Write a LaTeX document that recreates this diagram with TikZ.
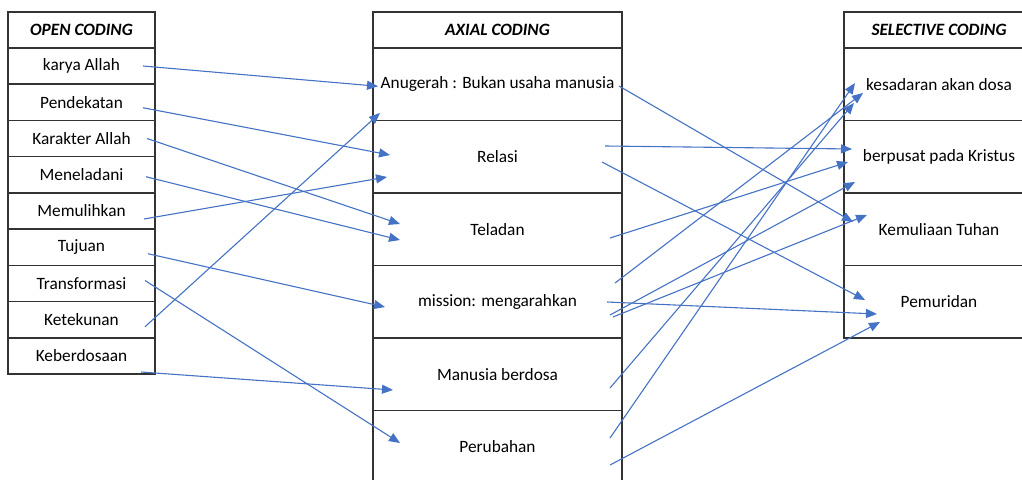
\documentclass[tikz,border=0pt]{standalone}
\usepackage{fontspec}
\setmainfont{Carlito}
\usepackage{xcolor}
\usetikzlibrary{arrows.meta}
\definecolor{linkblue}{HTML}{4472C4}

\begin{document}
\begin{tikzpicture}[x=1pt, y=-1pt,
  cell/.style={draw=black!80, line width=1.3pt, rectangle, inner sep=0pt,
               font=\fontsize{17.3}{20}\selectfont},
  opencell/.style={cell, minimum width=147pt, minimum height=36.25pt},
  axialcell/.style={cell, minimum width=249pt, minimum height=72.5pt},
  selcell/.style={cell, minimum width=190pt, minimum height=72.5pt},
  head/.style={minimum height=36pt, font=\fontsize{17.3}{20}\selectfont\bfseries\itshape},
  arrow/.style={-{Triangle[length=11pt,width=9pt]}, draw=linkblue, line width=1.1pt}
]
  \useasboundingbox (0,0) rectangle (1022,479);
  \clip (0,0) rectangle (1022,479);

  % open coding
  \node[opencell, head] (oc) at (81.5,30) {OPEN CODING};
  \node[opencell] (karya)        at (81.5,66)     {karya Allah};
  \node[opencell] (pendekatan)   at (81.5,102.25) {Pendekatan};
  \node[opencell] (karakter)     at (81.5,138.5)  {Karakter Allah};
  \node[opencell] (meneladani)   at (81.5,174.75) {Meneladani};
  \node[opencell] (memulihkan)   at (81.5,211)    {Memulihkan};
  \node[opencell] (tujuan)       at (81.5,247.25) {Tujuan};
  \node[opencell] (transformasi) at (81.5,283.5)  {Transformasi};
  \node[opencell] (ketekunan)    at (81.5,319.75) {Ketekunan};
  \node[opencell] (keberdosaan)  at (81.5,356)    {Keberdosaan};

  % axial coding
  \node[axialcell, head] (ac) at (497.5,30) {AXIAL CODING};
  \node[axialcell] (anugerah)  at (497.5,84.25)  {Anugerah : Bukan usaha manusia};
  \node[axialcell] (relasi)    at (497.5,156.75) {Relasi};
  \node[axialcell] (teladan)   at (497.5,229.25) {Teladan};
  \node[axialcell] (mission)   at (497.5,301.75) {mission: mengarahkan};
  \node[axialcell] (manusia)   at (497.5,374.25) {Manusia berdosa};
  \node[axialcell] (perubahan) at (497.5,446.75) {Perubahan};

  % selective coding
  \node[selcell, head] (sc) at (939,30) {SELECTIVE CODING};
  \node[selcell] (kesadaran) at (939,84.25)  {kesadaran akan dosa};
  \node[selcell] (berpusat)  at (939,156.75) {berpusat pada Kristus};
  \node[selcell] (kemuliaan) at (939,229.25) {Kemuliaan Tuhan};
  \node[selcell] (pemuridan) at (939,301.75) {Pemuridan};

  % open -> axial
  \draw[arrow] ([shift={(61.5,0)}]karya.center)        -- ([shift={(-119.5,2)}]anugerah.center);
  \draw[arrow] ([shift={(61.5,5.5)}]pendekatan.center) -- ([shift={(-107.5,-1.75)}]relasi.center);
  \draw[arrow] ([shift={(65.5,0)}]karakter.center)     -- ([shift={(-97.5,-5.25)}]teladan.center);
  \draw[arrow] ([shift={(64.5,2)}]meneladani.center)   -- ([shift={(-97.5,10.75)}]teladan.center);
  \draw[arrow] ([shift={(62.5,8)}]memulihkan.center)   -- ([shift={(-110.5,20.25)}]relasi.center);
  \draw[arrow] ([shift={(63.5,7)}]ketekunan.center)    -- ([shift={(-117.5,28.75)}]anugerah.center);
  \draw[arrow] ([shift={(66.5,6.5)}]tujuan.center)     -- ([shift={(-112.5,5.25)}]mission.center);
  \draw[arrow] ([shift={(63.5,-3)}]transformasi.center) -- ([shift={(-97.5,-3.75)}]perubahan.center);
  \draw[arrow] ([shift={(59.5,16)}]keberdosaan.center) -- ([shift={(-104.5,15.75)}]manusia.center);

  % axial -> selective
  \draw[arrow] ([shift={(121.5,1.75)}]anugerah.center) -- ([shift={(-86,-7.25)}]kemuliaan.center);
  \draw[arrow] ([shift={(107.5,-10.75)}]relasi.center) -- ([shift={(-87,-7.75)}]berpusat.center);
  \draw[arrow] ([shift={(104.5,5.25)}]relasi.center)   -- ([shift={(-74,-1.75)}]pemuridan.center);
  \draw[arrow] ([shift={(112.5,8.75)}]teladan.center)  -- ([shift={(-91,5.25)}]berpusat.center);
  \draw[arrow] ([shift={(117.5,-18.75)}]mission.center) -- ([shift={(-76,8.75)}]kesadaran.center);
  \draw[arrow] ([shift={(109.5,0.25)}]mission.center)  -- ([shift={(-62,12.25)}]pemuridan.center);
  \draw[arrow] ([shift={(112.5,13.25)}]mission.center) -- ([shift={(-84,25.25)}]berpusat.center);
  \draw[arrow] ([shift={(115.5,15.25)}]mission.center) -- ([shift={(-72,-14.25)}]kemuliaan.center);
  \draw[arrow] ([shift={(112.5,13.75)}]manusia.center) -- ([shift={(-85,18.75)}]kesadaran.center);
  \draw[arrow] ([shift={(112.5,-8.75)}]perubahan.center) -- ([shift={(-84,-1.25)}]kesadaran.center);
  \draw[arrow] ([shift={(112.5,18.25)}]perubahan.center) -- ([shift={(-59,20.25)}]pemuridan.center);
\end{tikzpicture}
\end{document}
